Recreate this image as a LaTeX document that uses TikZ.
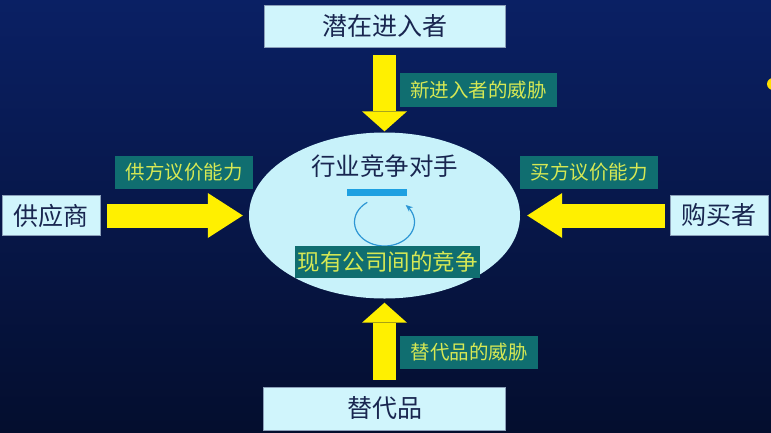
\documentclass[tikz,border=0pt]{standalone}
\usepackage{fontspec}
\newfontfamily\cjk{Noto Sans CJK SC}
\usetikzlibrary{arrows.meta,shapes.geometric}

\definecolor{bgtop}{RGB}{10,32,100}
\definecolor{bgbot}{RGB}{4,14,46}
\definecolor{boxfill}{RGB}{208,245,252}
\definecolor{boxline}{RGB}{140,160,185}
\definecolor{ink}{RGB}{25,38,80}
\definecolor{tagfill}{RGB}{16,110,112}
\definecolor{tagtext}{RGB}{214,232,84}
\definecolor{flow}{RGB}{255,240,0}
\definecolor{barblue}{RGB}{30,160,225}
\definecolor{loopblue}{RGB}{45,150,212}
\definecolor{ovalfill}{RGB}{200,242,250}

\tikzset{
  force/.style={draw=boxline, line width=0.8pt, fill=boxfill, text=ink,
    inner sep=0pt, font=\cjk\fontsize{25pt}{25pt}\selectfont},
  tag/.style={fill=tagfill, text=tagtext, inner sep=0pt,
    minimum width=138pt, minimum height=33pt,
    font=\cjk\fontsize{19.5pt}{19.5pt}\selectfont},
  flowv/.style={draw=flow, line width=23pt,
    -{Triangle[width=45pt,length=20pt,line width=0pt]}},
  flowh/.style={draw=flow, line width=24pt,
    -{Triangle[width=45pt,length=35pt,line width=0pt]}},
  loopline/.style={draw=loopblue, line width=1.2pt,
    -{Stealth[length=7pt,width=6pt]}}
}

\begin{document}
\begin{tikzpicture}[x=1pt,y=-1pt]
  \useasboundingbox (0,0) rectangle (771,432);
  \shade[top color=bgtop, bottom color=bgbot] (0,0) rectangle (771,432);

  % central oval: industry rivals
  \node[ellipse, fill=ovalfill, inner sep=0pt,
        minimum width=271pt, minimum height=166pt] (rival) at (384.5,215.5) {};
  \node[text=ink, inner sep=0pt, font=\cjk\fontsize{24.5pt}{24.5pt}\selectfont]
        (rivaltitle) at (384.5,166) {行业竞争对手};
  \node[fill=barblue, inner sep=0pt, minimum width=60pt, minimum height=7pt]
        (bar) at (377,192.5) {};
  % rivalry loop, running round from the top left to the top right
  \draw[loopline] plot[smooth, domain=125:405, samples=48]
        ({384.5+30*cos(\x)}, {222-24*sin(\x)});
  \node[tag, minimum width=185pt, minimum height=32pt,
        font=\cjk\fontsize{22.5pt}{22.5pt}\selectfont]
        (rivalry) at (387.5,262) {现有公司间的竞争};

  % the four outside forces
  \node[force, minimum width=241pt, minimum height=42pt] (entrant) at (384.5,26) {潜在进入者};
  \node[force, minimum width=242pt, minimum height=43pt] (subst) at (384.5,408.5) {替代品};
  \node[force, minimum width=98pt, minimum height=40pt] (supplier) at (51,215.5) {供应商};
  \node[force, minimum width=98pt, minimum height=40pt] (buyer) at (719,215.5) {购买者};

  % block arrows into the oval
  \draw[flowv] ([yshift=-8pt]entrant.south) -- ([yshift=1pt]rival.north);
  \draw[flowv] ([yshift=7pt]subst.north) -- ([yshift=-4pt]rival.south);
  \draw[flowh] ([xshift=7pt]supplier.east) -- ([xshift=-6pt]rival.west);
  \draw[flowh] ([xshift=-5pt]buyer.west) -- ([xshift=7pt]rival.east);

  % arrow labels
  \node[tag, minimum width=157pt, minimum height=34pt] (threatnew) at (478.5,90) {新进入者的威胁};
  \node[tag] (threatsub) at (469,352) {替代品的威胁};
  \node[tag] (supplierpower) at (184,172) {供方议价能力};
  \node[tag] (buyerpower) at (589,172) {买方议价能力};

  % pointer spot at the right edge
  \fill[flow!85!orange] (773,84) circle (6pt);
\end{tikzpicture}
\end{document}
